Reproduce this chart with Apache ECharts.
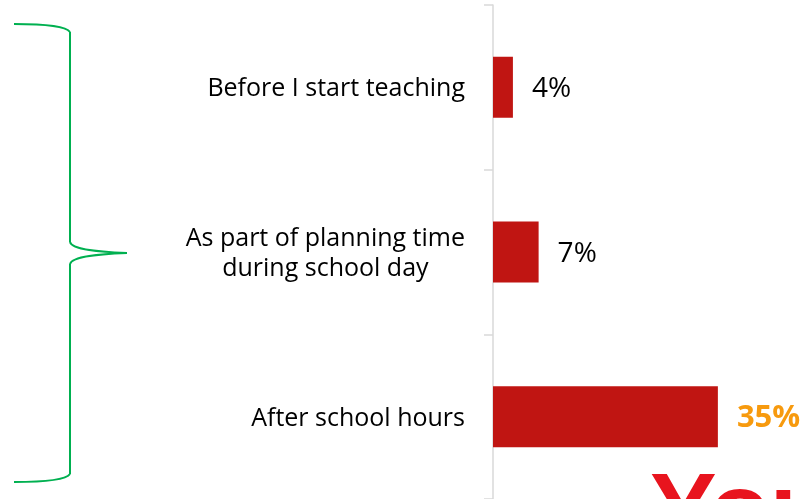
<!DOCTYPE html>
<html>
<head>
<meta charset="utf-8">
<script src="https://cdn.jsdelivr.net/npm/echarts@6/dist/echarts.min.js"></script>
<style>html,body{margin:0;padding:0;background:#fff;}#c{width:807px;height:499px;}</style>
</head>
<body>
<div id="c"></div>
<script>
const categories = ["Before I start teaching", "As part of planning time\nduring school day", "After school hours"];
const values = [3.1, 7.1, 35];
const valueLabels = ["4%", "7%", "35%"];
const highlight = [false, false, true];

const FONT = "Open Sans";
const chart = echarts.init(document.getElementById('c'), null, {renderer: 'canvas'});

const data = values.map((v, i) => ({
  value: v,
  label: highlight[i] ? {color: '#F79A0E', fontWeight: 'bold', fontSize: 31} : {}
}));

const braceStyle = {fill: 'none', stroke: '#00B050', lineWidth: 2};
function bez(x1, y1, cpx1, cpy1, cpx2, cpy2, x2, y2) {
  return {type: 'bezierCurve', silent: true, shape: {x1, y1, x2, y2, cpx1, cpy1, cpx2, cpy2}, style: braceStyle};
}
function seg(x1, y1, x2, y2) {
  return {type: 'line', silent: true, shape: {x1, y1, x2, y2}, style: braceStyle};
}

chart.setOption({
  animation: false,
  backgroundColor: '#ffffff',
  grid: {left: 493, right: 57, top: 5, bottom: -1, containLabel: false},
  xAxis: {type: 'value', min: 0, max: 40, show: false},
  yAxis: {
    type: 'category', inverse: true, data: categories,
    axisLine: {show: true, lineStyle: {color: '#D9D9D9', width: 1.5}},
    axisTick: {show: true, length: 9, lineStyle: {color: '#D9D9D9', width: 1.5}},
    axisLabel: {
      margin: 28, color: '#000', fontFamily: FONT, fontSize: 25,
      formatter: v => v.split('\n').map(s => '{c|' + s + '}').join('\n'),
      rich: {c: {align: 'center', fontFamily: FONT, fontSize: 25, color: '#000', lineHeight: 30, padding: [4, 0, 0, 0]}}
    },
    splitLine: {show: false}
  },
  series: [{
    type: 'bar', data: data, barWidth: '37%',
    itemStyle: {color: '#C01512'},
    label: {
      show: true, position: 'right', distance: 19, offset: [0, 2],
      fontFamily: FONT, fontSize: 28, color: '#000',
      formatter: p => valueLabels[p.dataIndex]
    }
  }],
  graphic: [
    bez(14, 24, 40, 24, 66, 26, 70, 32),
    seg(70, 32, 70, 242),
    bez(70, 242, 72, 250, 100, 252, 127, 253),
    bez(127, 253, 100, 254, 72, 256, 70, 264),
    seg(70, 264, 70, 474),
    bez(70, 474, 66, 480, 40, 482, 14, 482),
    {
      type: 'text', silent: true, x: 650, y: 465,
      style: {text: 'YouGov', fill: '#E8141E', fontFamily: 'Liberation Sans', fontWeight: 'bold', fontSize: 100, verticalAlign: 'top', align: 'left'}
    }
  ]
});
</script>
</body>
</html>
